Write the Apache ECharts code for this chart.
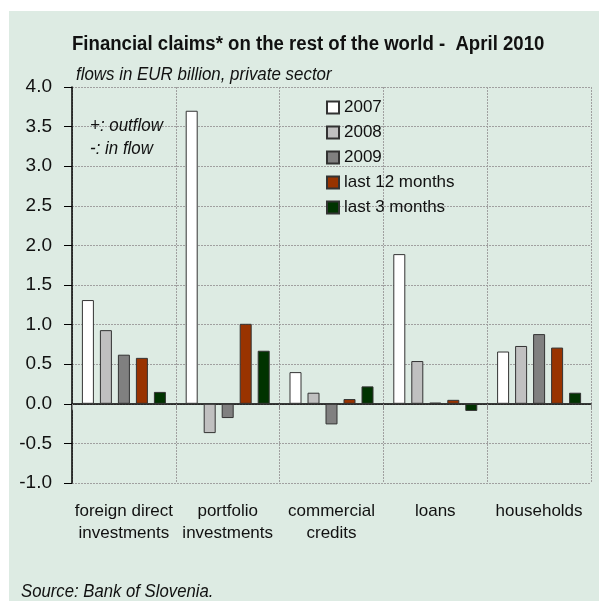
<!DOCTYPE html>
<html>
<head>
<meta charset="utf-8">
<script src="https://cdn.jsdelivr.net/npm/echarts@6/dist/echarts.min.js"></script>
<style>
  html, body { margin: 0; padding: 0; background: #fff; }
  #chart {
    width: 599px; height: 601px;
    background: linear-gradient(#ddebe3, #ddebe3) 9px 11px / 590px 590px no-repeat #fff;
  }
</style>
</head>
<body>
<div id="chart"></div>
<script>
// Categories of financial claims
const categories = ['foreign direct\ninvestments', 'portfolio\ninvestments', 'commercial\ncredits', 'loans', 'households'];

// Flows in EUR billion, private sector
const y2007   = [1.31, 3.70, 0.40, 1.89, 0.66];
const y2008   = [0.93, -0.37, 0.14, 0.54, 0.73];
const y2009   = [0.62, -0.18, -0.26, 0.015, 0.88];
const last12m = [0.58, 1.01, 0.06, 0.05, 0.71];
const last3m  = [0.15, 0.67, 0.22, -0.09, 0.14];

const yTicks = { min: -1, max: 4, step: 0.5 };

const FONT = '"Liberation Sans", Arial, sans-serif';
const INK = '#111';

const seriesDefs = [
  { name: '2007', data: y2007, color: '#ffffff' },
  { name: '2008', data: y2008, color: '#c0c0c0' },
  { name: '2009', data: y2009, color: '#808080' },
  { name: 'last 12 months', data: last12m, color: '#993300' },
  { name: 'last 3 months', data: last3m, color: '#003300' }
];

// free-standing text, horizontally squeezed for a narrow look
function label(text, x, y, font, squeeze) {
  return {
    type: 'text', x: x, y: y, scaleX: squeeze, z: 100,
    style: { text: text, font: font, fill: INK, textAlign: 'left', textVerticalAlign: 'middle' }
  };
}

const chart = echarts.init(document.getElementById('chart'), null, { renderer: 'canvas' });

chart.setOption({
  backgroundColor: 'transparent',
  animation: false,
  textStyle: { fontFamily: FONT, color: INK },
  graphic: [
    label('Financial claims* on the rest of the world -  April 2010', 72, 44, 'bold 20px ' + FONT, 0.93),
    label('flows in EUR billion, private sector', 76, 75, 'italic 19px ' + FONT, 0.89),
    label('+: outflow', 90, 126, 'italic 19px ' + FONT, 0.89),
    label('-: in flow', 90, 149, 'italic 19px ' + FONT, 0.89),
    label('Source: Bank of Slovenia.', 21, 592, 'italic 19px ' + FONT, 0.88)
  ],
  legend: {
    orient: 'vertical',
    left: 326, top: 95, padding: 0,
    itemWidth: 12, itemHeight: 12, itemGap: 0,
    icon: 'rect',
    textStyle: { fontFamily: FONT, fontSize: 17, color: INK, lineHeight: 25 },
    data: seriesDefs.map(s => s.name)
  },
  grid: { left: 72, right: 8, top: 87, bottom: 118, containLabel: false, outerBoundsMode: 'none' },
  xAxis: {
    type: 'category',
    data: categories,
    axisLine: { onZero: true, lineStyle: { color: '#000', width: 1.5 } },
    axisTick: { show: true, length: 6, lineStyle: { color: '#888' } },
    axisLabel: { margin: 17, fontFamily: FONT, fontSize: 17, color: INK, lineHeight: 22, interval: 0 },
    splitLine: { show: true, lineStyle: { color: '#a0a0a0', type: [2, 1], width: 1 } }
  },
  yAxis: {
    type: 'value',
    min: yTicks.min, max: yTicks.max, interval: yTicks.step,
    axisLine: { show: true, lineStyle: { color: '#000', width: 1.5 } },
    axisTick: { show: true, length: 8, lineStyle: { color: '#000' } },
    axisLabel: { margin: 20, fontFamily: FONT, fontSize: 19, color: INK, formatter: v => v.toFixed(1) },
    splitLine: { show: true, lineStyle: { color: '#a0a0a0', type: [2, 1], width: 1 } }
  },
  series: seriesDefs.map(s => ({
    name: s.name,
    type: 'bar',
    data: s.data,
    barWidth: 12,
    barGap: '50%',
    itemStyle: { color: s.color, borderColor: '#333', borderWidth: 1 }
  }))
});
</script>
</body>
</html>
